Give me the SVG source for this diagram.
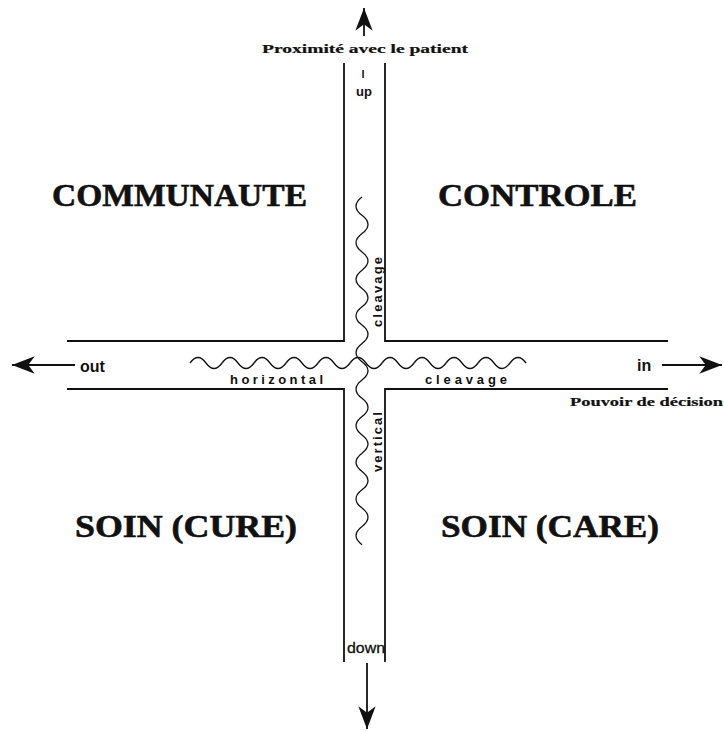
<svg xmlns="http://www.w3.org/2000/svg" width="724" height="731" viewBox="0 0 724 731">
<style>
.ln{stroke:#111;stroke-width:1.8;fill:none}
.wave{stroke:#111;stroke-width:1.3;fill:none}
.big{font-family:"Liberation Serif",serif;font-weight:bold;font-size:32px;fill:#111;stroke:#111;stroke-width:0.6}
.cap{font-family:"Liberation Serif",serif;font-weight:bold;font-size:12.5px;fill:#111;stroke:#111;stroke-width:0.2}
.lab{font-family:"Liberation Sans",sans-serif;font-weight:bold;fill:#111}
</style>
<defs>
<marker id="ah" markerUnits="userSpaceOnUse" markerWidth="26" markerHeight="20" viewBox="-22 -9 24 18" refX="0" refY="0" orient="auto">
<path d="M0,0 L-21,-8 L-15,0 L-21,8 Z" fill="#111"/>
</marker>
</defs>
<rect width="724" height="731" fill="#fff"/>
<g id="channels">
<path class="ln" d="M344,63 V341 H67 M385,63 V341 H668 M67,389 H344 V662 M668,389 H385 V662"/>
</g>
<g id="connectors">
<path class="ln" d="M364,36 V8" marker-end="url(#ah)"/>
<path class="ln" d="M367,663 V729" marker-end="url(#ah)"/>
<path class="ln" d="M75,365 H12" marker-end="url(#ah)"/>
<path class="ln" d="M662,365 H722" marker-end="url(#ah)"/>
</g>
<g id="waves">
<path class="wave" d="M190,363 q8,-11 16,0 t16,0 t16,0 t16,0 t16,0 t16,0 t16,0 t16,0 t16,0 t16,0 t16,0 t16,0 t16,0 t16,0 t16,0 t16,0 t16,0 t16,0 t16,0 t16,0 t16,0"/>
<path class="wave" d="M362,197 q-12,9.15 0,18.3 t0,18.3 t0,18.3 t0,18.3 t0,18.3 t0,18.3 t0,18.3 t0,18.3 t0,18.3 t0,18.3 t0,18.3 t0,18.3 t0,18.3 t0,18.3 t0,18.3 t0,18.3 t0,18.3 t0,18.3 t0,18.3"/>
</g>
<g id="top-label">
<text class="cap" x="262" y="53" textLength="206" lengthAdjust="spacingAndGlyphs">Proximité avec le patient</text>
<text class="lab" x="363" y="78" font-size="11" text-anchor="middle">l</text>
<text class="lab" x="364" y="96" font-size="13" text-anchor="middle">up</text>
</g>
<g id="down-label">
<text x="347" y="653" font-family="Liberation Sans, sans-serif" font-size="14" fill="#111" stroke="#111" stroke-width="0.3" textLength="38" lengthAdjust="spacingAndGlyphs">down</text>
</g>
<g id="out-label"><text class="lab" x="80" y="372" font-size="16">out</text></g>
<g id="in-label"><text class="lab" x="637" y="371" font-size="16">in</text></g>
<g id="right-label">
<text class="cap" x="570" y="406" textLength="153" lengthAdjust="spacingAndGlyphs">Pouvoir de décision</text>
</g>
<g id="cleavage-labels">
<text class="lab" x="230" y="384" font-size="13" textLength="93" lengthAdjust="spacing">horizontal</text>
<text class="lab" x="425" y="384" font-size="13" textLength="82" lengthAdjust="spacing">cleavage</text>
<text class="lab" font-size="13" transform="translate(382,327) rotate(-90)" textLength="70" lengthAdjust="spacing">cleavage</text>
<text class="lab" font-size="13" transform="translate(382,472) rotate(-90)" textLength="60" lengthAdjust="spacing">vertical</text>
</g>
<g id="communaute"><text class="big" x="52" y="206" textLength="255" lengthAdjust="spacingAndGlyphs">COMMUNAUTE</text></g>
<g id="controle"><text class="big" x="438" y="206" textLength="199" lengthAdjust="spacingAndGlyphs">CONTROLE</text></g>
<g id="soin-cure"><text class="big" x="75" y="537" textLength="222" lengthAdjust="spacingAndGlyphs">SOIN (CURE)</text></g>
<g id="soin-care"><text class="big" x="441" y="537" textLength="218" lengthAdjust="spacingAndGlyphs">SOIN (CARE)</text></g>
</svg>
